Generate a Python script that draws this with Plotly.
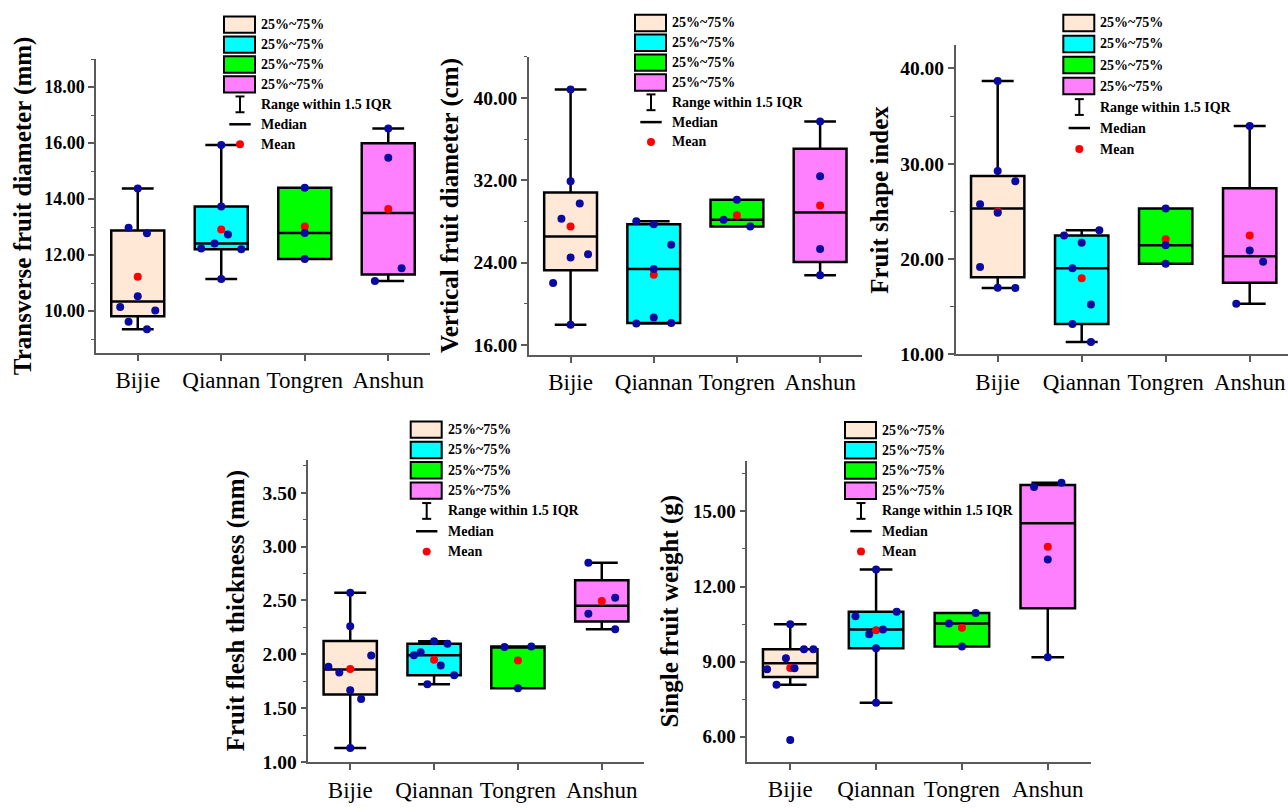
import numpy as np
import plotly.graph_objects as go

categories = ["Bijie", "Qiannan", "Tongren", "Anshun"]

# ---- data ----
transverse_bijie = [14.38, 12.98, 12.78, 10.53, 10.15, 10.02, 9.62, 9.35]
transverse_qiannan = [15.93, 13.74, 12.74, 12.42, 12.24, 12.21, 11.15]
transverse_tongren = [14.41, 12.79, 11.86]
transverse_anshun = [16.52, 15.48, 11.53, 11.08]

vertical_bijie = [40.84, 31.90, 29.75, 28.27, 24.81, 24.49, 22.02, 17.95]
vertical_qiannan = [28.02, 27.73, 25.74, 23.37, 18.65, 18.08, 18.12]
vertical_tongren = [30.10, 28.17, 27.50]
vertical_anshun = [37.73, 32.40, 25.33, 22.76]

shape_bijie = [38.66, 29.24, 28.17, 25.75, 24.86, 19.17, 16.99, 16.96]
shape_qiannan = [23.03, 22.48, 21.72, 19.03, 15.24, 13.20, 11.30]
shape_tongren = [25.31, 21.44, 19.52]
shape_anshun = [33.96, 20.89, 19.72, 15.31]

flesh_bijie = [2.571, 2.260, 1.990, 1.885, 1.833, 1.668, 1.586, 1.131]
flesh_qiannan = [2.123, 2.099, 2.019, 1.992, 1.897, 1.806, 1.723]
flesh_tongren = [2.074, 2.068, 1.687]
flesh_anshun = [2.850, 2.526, 2.376, 2.233]

weight_bijie = [10.49, 9.49, 9.49, 9.14, 8.74, 8.70, 8.08, 5.87]
weight_qiannan = [12.68, 10.99, 10.81, 10.28, 10.09, 9.53, 7.36]
weight_tongren = [10.94, 10.52, 9.60]
weight_anshun = [16.14, 15.97, 13.08, 9.18]

titles = ["Transverse fruit diameter (mm)", "Vertical fruit diameter (cm)",
          "Fruit shape index", "Fruit flesh thickness (mm)", "Single fruit weight (g)"]
legend_box_label = "25%~75%"
legend_labels = ["Range within 1.5 IQR", "Median", "Mean"]

# ---- horizontal spread of the dots (layout, in category units) ----
spread = [
    [[0, -0.11, 0.11, 0, -0.21, 0.21, -0.11, 0.11], [0, 0, 0.08, -0.08, -0.24, 0.24, 0], [0, 0, 0], [0, 0, 0.16, -0.16]],
    [[0, 0, 0.11, -0.11, 0.21, 0, -0.21, 0], [-0.21, 0, 0.21, 0, 0, -0.21, 0.21], [0, -0.16, 0.16], [0, 0, 0, 0]],
    [[0, 0, 0.21, -0.21, 0, -0.21, 0, 0.21], [0.21, -0.21, 0, -0.11, 0.11, -0.11, 0.11], [0, 0, 0], [0, 0, 0.16, -0.16]],
    [[0, 0, 0.25, -0.26, -0.13, 0, 0.13, 0], [0, 0.16, -0.16, -0.24, 0.08, 0.24, -0.08], [0.16, -0.16, 0], [-0.16, 0.16, -0.16, 0.16]],
    [[0, 0.16, 0.27, -0.05, 0.05, -0.27, -0.16, 0], [0, 0.24, -0.24, 0.08, -0.08, 0, 0], [0.16, -0.15, 0], [0.16, -0.16, 0, 0]],
]

panel_data = [
    [transverse_bijie, transverse_qiannan, transverse_tongren, transverse_anshun],
    [vertical_bijie, vertical_qiannan, vertical_tongren, vertical_anshun],
    [shape_bijie, shape_qiannan, shape_tongren, shape_anshun],
    [flesh_bijie, flesh_qiannan, flesh_tongren, flesh_anshun],
    [weight_bijie, weight_qiannan, weight_tongren, weight_anshun],
]

W, H = 1288, 808
def px(x):
    return x / W
def py(y):
    return 1 - y / H

# geometry of panels in pixels
panels = [
    dict(xd=(96, 430), yd=(60, 358), xr=(0.5, 4.5), yr=(8.5, 19.0), tick0=10, dtick=2, mdt=1,
         tfs=18, title_x=23, leg=(224, 16.7, 20.2)),
    dict(xd=(529, 861.7), yd=(57.7, 360), xr=(0.5, 4.5), yr=(15, 44), tick0=16, dtick=8, mdt=4,
         tfs=19.5, title_x=450, leg=(635, 15, 20.1)),
    dict(xd=(955.7, 1288), yd=(45.7, 359.3), xr=(0.5, 4.456), yr=(10, 42.44), tick0=10, dtick=10, mdt=5,
         tfs=19.5, title_x=880, leg=(1063.3, 15, 21.3)),
    dict(xd=(308.3, 643.7), yd=(466.7, 772.7), xr=(0.5, 4.5), yr=(1.0, 3.8), tick0=1, dtick=0.5, mdt=0.25,
         tfs=19.5, title_x=236, leg=(410.7, 427.3, 20.6)),
    dict(xd=(747.3, 1090.7), yd=(467.7, 772.3), xr=(0.5, 4.5), yr=(5, 17), tick0=6, dtick=3, mdt=1.5,
         tfs=19, title_x=670, leg=(845, 427.7, 20.5)),
]

box_colors = ["#FFE8D6", "#00FFFF", "#00FF00", "#FF80FF"]
dot_color = "#0A0AA0"
mean_color = "#FF0000"
axis_color = "#5a5a5a"
serif = "Liberation Serif, Times New Roman, serif"

fig = go.Figure()
layout = dict(width=W, height=H, autosize=False, margin=dict(l=0, r=0, t=0, b=0),
              paper_bgcolor="white", plot_bgcolor="white", showlegend=False,
              boxmode="overlay", font=dict(family=serif, color="black"))
shapes = []
annotations = []

for p, (cfg, groups) in enumerate(zip(panels, panel_data)):
    n = p + 1
    xa = "x" if n == 1 else f"x{n}"
    ya = "y" if n == 1 else f"y{n}"
    for k, vals in enumerate(groups):
        pos = k + 1
        fig.add_trace(go.Box(
            x=[pos] * len(vals), y=vals, xaxis=xa, yaxis=ya,
            fillcolor=box_colors[k], line=dict(color="black", width=2.5),
            width=0.635, whiskerwidth=0.6, quartilemethod="exclusive",
            boxpoints="outliers", marker=dict(opacity=0, size=2),
            hoverinfo="skip", showlegend=False))
    for k, vals in enumerate(groups):
        pos = k + 1
        fig.add_trace(go.Scatter(
            x=[pos], y=[float(np.mean(vals))], xaxis=xa, yaxis=ya, mode="markers",
            marker=dict(color=mean_color, size=8), hoverinfo="skip", showlegend=False))
        fig.add_trace(go.Scatter(
            x=[pos + o for o in spread[p][k]], y=vals, xaxis=xa, yaxis=ya, mode="markers",
            marker=dict(color=dot_color, size=8), hoverinfo="skip", showlegend=False))

    xkey = "xaxis" if n == 1 else f"xaxis{n}"
    ykey = "yaxis" if n == 1 else f"yaxis{n}"
    layout[xkey] = dict(
        domain=[px(cfg["xd"][0]), px(cfg["xd"][1])], range=list(cfg["xr"]), anchor=ya,
        tickmode="array", tickvals=[1, 2, 3, 4], ticktext=categories,
        ticks="outside", ticklen=6, tickwidth=1.5, tickcolor=axis_color,
        showline=True, linecolor=axis_color, linewidth=1.5,
        showgrid=False, zeroline=False,
        tickfont=dict(family=serif, size=23, color="black"))
    layout[ykey] = dict(
        domain=[py(cfg["yd"][1]), py(cfg["yd"][0])], range=list(cfg["yr"]), anchor=xa,
        tick0=cfg["tick0"], dtick=cfg["dtick"], tickformat=".2f",
        ticks="outside", ticklen=6, tickwidth=1.5, tickcolor=axis_color,
        minor=dict(tick0=cfg["tick0"], dtick=cfg["mdt"], ticks="outside", ticklen=3.5,
                   tickwidth=1.2, tickcolor=axis_color, showgrid=False),
        showline=True, linecolor=axis_color, linewidth=1.5,
        showgrid=False, zeroline=False,
        tickfont=dict(family=serif, size=cfg["tfs"], color="black", weight="bold"))

    # y-axis title
    annotations.append(dict(
        x=px(cfg["title_x"]), y=py((cfg["yd"][0] + cfg["yd"][1]) / 2), xref="paper", yref="paper",
        text="<b>" + titles[p] + "</b>", textangle=-90, showarrow=False, xanchor="center", yanchor="middle",
        font=dict(family=serif, size=25, color="black")))

    # legend block
    L, T, s = cfg["leg"]
    rw, rh = 31, 16.6
    lfont = dict(family=serif, size=14, color="black")
    for k, c in enumerate(box_colors):
        top = T + k * s
        shapes.append(dict(type="rect", xref="paper", yref="paper",
                           x0=px(L), x1=px(L + rw), y0=py(top + rh), y1=py(top),
                           fillcolor=c, line=dict(color="black", width=2)))
        annotations.append(dict(x=px(L + 35), y=py(top + rh / 2), xref="paper", yref="paper",
                                text="<b>" + legend_box_label + "</b>", showarrow=False, xanchor="left",
                                yanchor="middle", font=lfont))
    cx = L + 16
    for j, lab in enumerate(legend_labels):
        yc = T + rh / 2 + (4 + j) * s
        annotations.append(dict(x=px(L + 35), y=py(yc), xref="paper", yref="paper",
                                text="<b>" + lab + "</b>", showarrow=False, xanchor="left",
                                yanchor="middle", font=lfont))
        if j == 0:
            shapes.append(dict(type="line", xref="paper", yref="paper",
                               x0=px(cx), x1=px(cx), y0=py(yc - 8), y1=py(yc + 8),
                               line=dict(color="black", width=2)))
            for dy in (-8, 8):
                shapes.append(dict(type="line", xref="paper", yref="paper",
                                   x0=px(cx - 4.5), x1=px(cx + 4.5), y0=py(yc + dy), y1=py(yc + dy),
                                   line=dict(color="black", width=2)))
        elif j == 1:
            shapes.append(dict(type="line", xref="paper", yref="paper",
                               x0=px(L + 5.3), x1=px(L + 26.7), y0=py(yc), y1=py(yc),
                               line=dict(color="black", width=2.5)))
        else:
            shapes.append(dict(type="circle", xref="paper", yref="paper",
                               x0=px(cx - 4), x1=px(cx + 4), y0=py(yc + 4), y1=py(yc - 4),
                               fillcolor=mean_color, line=dict(color=mean_color, width=0)))

layout["shapes"] = shapes
layout["annotations"] = annotations
fig.update_layout(**layout)
fig.write_html("out.html")
